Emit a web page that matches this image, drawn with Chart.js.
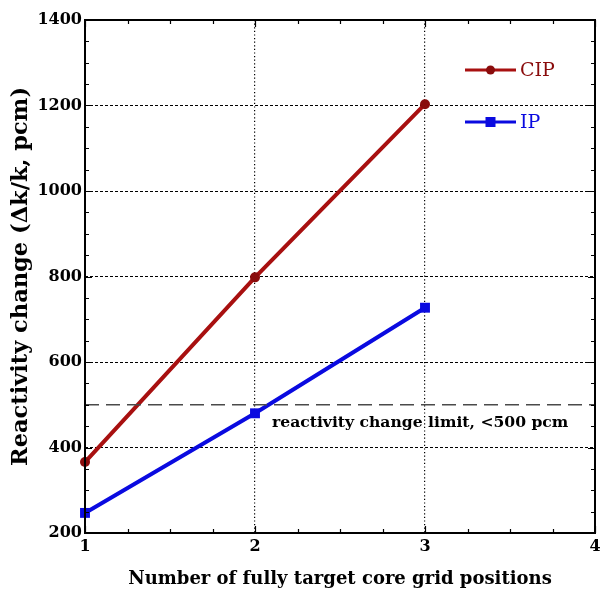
<!DOCTYPE html>
<html>
<head>
<meta charset="utf-8">
<script src="https://cdn.jsdelivr.net/npm/chart.js@4"></script>
<style>
html,body{margin:0;padding:0;background:#fff;}
#wrap{width:602px;height:591px;position:relative;}
</style>
</head>
<body>
<div id="wrap"><canvas id="c" width="602" height="591"></canvas></div>
<script>
const positions = [1, 2, 3];
const cipValues = [366, 798, 1203];
const ipValues = [247, 480, 727];
const limitValue = 500;
const limitLabel = 'reactivity change limit, <500 pcm';
const seriesNames = ['CIP', 'IP'];
const xTitle = 'Number of fully target core grid positions';
const yTitle = 'Reactivity change (\u0394k/k, pcm)';
const xRange = [1, 4];
const yRange = [200, 1400];

const FONT = '"DejaVu Serif", "Liberation Serif", serif';

const framePlugin = {
  id: 'frame',
  afterDraw(chart) {
    const {ctx, chartArea: a, scales} = chart;
    const xs = scales.x, ys = scales.y;
    ctx.save();
    ctx.strokeStyle = '#000';
    ctx.lineWidth = 1.2;
    for (let v = xRange[0]; v <= xRange[1] + 1e-9; v += 0.25) {
      const px = Math.round(xs.getPixelForValue(v)) + 0.5;
      const major = Math.abs(v - Math.round(v)) < 1e-6;
      const len = major ? 7 : 4;
      ctx.beginPath();
      ctx.moveTo(px, a.bottom); ctx.lineTo(px, a.bottom - len);
      ctx.moveTo(px, a.top); ctx.lineTo(px, a.top + len);
      ctx.stroke();
    }
    for (let v = yRange[0]; v <= yRange[1] + 1e-9; v += 50) {
      const py = Math.round(ys.getPixelForValue(v)) + 0.5;
      const major = v % 200 === 0;
      const len = major ? 7 : 4;
      ctx.beginPath();
      ctx.moveTo(a.left, py); ctx.lineTo(a.left + len, py);
      ctx.moveTo(a.right, py); ctx.lineTo(a.right - len, py);
      ctx.stroke();
    }
    ctx.lineWidth = 2;
    ctx.strokeRect(a.left, a.top, a.right - a.left, a.bottom - a.top);

    ctx.fillStyle = '#000';
    ctx.font = 'bold 15.6px ' + FONT;
    ctx.textBaseline = 'middle';
    ctx.textAlign = 'left';
    ctx.fillText(limitLabel, xs.getPixelForValue(2.1), ys.getPixelForValue(limitValue) + 18);

    const items = chart.data.datasets.filter(d => d.inLegend);
    items.forEach((d, i) => {
      const y = a.top + 50 + i * 52;
      const x0 = a.right - 130, x1 = a.right - 79;
      ctx.strokeStyle = d.borderColor;
      ctx.lineWidth = 3;
      ctx.beginPath(); ctx.moveTo(x0, y); ctx.lineTo(x1, y); ctx.stroke();
      const cx = (x0 + x1) / 2;
      ctx.fillStyle = d.pointBackgroundColor;
      if (d.pointStyle === 'rect') {
        ctx.fillRect(cx - 5, y - 5, 10, 10);
      } else {
        ctx.beginPath(); ctx.arc(cx, y, 4.5, 0, Math.PI * 2); ctx.fill();
      }
      ctx.fillStyle = d.legendColor;
      ctx.font = '19px ' + FONT;
      ctx.textBaseline = 'middle';
      ctx.fillText(d.label, x1 + 4, y + 1);
    });
    ctx.restore();
  }
};

const toPts = (xs, ys) => xs.map((x, i) => ({x, y: ys[i]}));

new Chart(document.getElementById('c'), {
  type: 'line',
  data: {
    datasets: [
      {
        label: 'limit',
        data: [{x: xRange[0], y: limitValue}, {x: xRange[1], y: limitValue}],
        borderColor: '#4a4a4a',
        borderWidth: 1.3,
        borderDash: [14, 7],
        pointRadius: 0,
        inLegend: false
      },
      {
        label: seriesNames[0],
        data: toPts(positions, cipValues),
        borderColor: '#a81010',
        borderWidth: 4,
        pointStyle: 'circle',
        pointRadius: 5,
        pointBackgroundColor: '#8a0c0c',
        pointBorderColor: '#8a0c0c',
        pointBorderWidth: 0,
        legendColor: '#8a0c0c',
        inLegend: true,
        clip: false
      },
      {
        label: seriesNames[1],
        data: toPts(positions, ipValues),
        borderColor: '#0a0ae0',
        borderWidth: 4,
        pointStyle: 'rect',
        pointRadius: 7,
        pointBackgroundColor: '#0a0ae0',
        pointBorderColor: '#0a0ae0',
        pointBorderWidth: 0,
        legendColor: '#0a0ae0',
        inLegend: true,
        clip: false
      }
    ]
  },
  options: {
    responsive: false,
    animation: false,
    layout: {padding: {top: 20, right: 2, left: 0, bottom: 0}},
    plugins: {legend: {display: false}, tooltip: {enabled: false}},
    scales: {
      x: {
        type: 'linear',
        min: xRange[0], max: xRange[1],
        afterFit(s) { s.height = 58; s.paddingRight = 0; s.paddingLeft = 0; },
        ticks: {stepSize: 1, color: '#000', padding: 4,
          callback: v => String(v),
          font: {family: FONT, size: 16, weight: 'bold'}},
        grid: {
          drawTicks: false,
          color: c => (c.tick && (c.tick.value === xRange[0] || c.tick.value === xRange[1])) ? 'rgba(0,0,0,0)' : '#000',
          lineWidth: 1.2
        },
        border: {display: false, dash: [1.2, 2.4]},
        title: {display: true, text: xTitle, color: '#000', padding: {top: 0, bottom: 1},
          font: {family: FONT, size: 18, weight: 'bold'}}
      },
      y: {
        type: 'linear',
        min: yRange[0], max: yRange[1],
        afterFit(s) { s.width = 85; s.paddingTop = 0; s.paddingBottom = 0; },
        ticks: {stepSize: 200, color: '#000', padding: 3,
          callback: v => String(v),
          font: {family: FONT, size: 16, weight: 'bold'}},
        grid: {
          drawTicks: false,
          color: c => (c.tick && (c.tick.value === yRange[0] || c.tick.value === yRange[1])) ? 'rgba(0,0,0,0)' : '#000',
          lineWidth: 1
        },
        border: {display: false, dash: [3, 2]},
        title: {display: true, text: yTitle, color: '#000', padding: {top: 8, bottom: 0},
          font: {family: FONT, size: 22.5, weight: 'bold'}}
      }
    }
  },
  plugins: [framePlugin]
});
</script>
</body>
</html>
